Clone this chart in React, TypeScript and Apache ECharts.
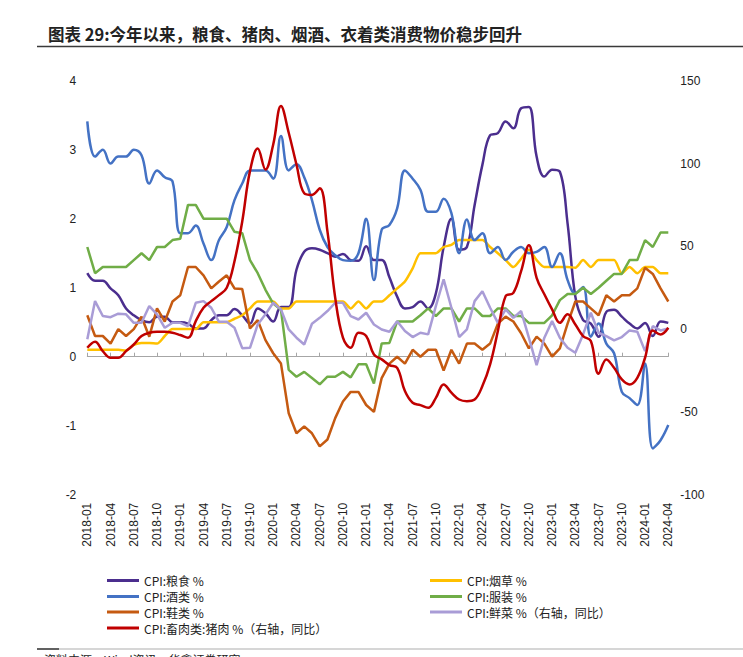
import React, { useEffect, useRef } from "react";
import * as echarts from "echarts";

// 2018-01 .. 2024-04 (76 months)
const months: string[] = [];
for (let y = 2018; y <= 2024; y++) {
  for (let m = 1; m <= 12; m++) {
    if (y === 2024 && m > 4) break;
    months.push(`${y}-${m < 10 ? "0" + m : m}`);
  }
}

const grain = [
  1.21, 1.1, 1.1, 0.99, 0.89, 0.7, 0.6, 0.53, 0.5, 0.58, 0.58, 0.5,
  0.5, 0.48, 0.41, 0.41, 0.53, 0.6, 0.6, 0.69, 0.6, 0.48, 0.7, 0.63,
  0.51, 0.72, 0.72, 1.26, 1.52, 1.57, 1.55, 1.5, 1.45, 1.49, 1.4, 1.39,
  1.6, 1.4, 1.4, 1.15, 0.87, 0.7, 0.72, 0.8, 0.7, 0.92, 1.59, 2.0,
  1.55, 1.59, 2.2, 2.78, 3.21, 3.24, 3.41, 3.31, 3.6, 3.62, 2.9, 2.61,
  2.71, 2.68, 1.93, 0.87, 0.53, 0.48, 0.29, 0.65, 0.68, 0.58, 0.48, 0.41,
  0.49, 0.3, 0.51, 0.49,
];

const tobacco = [
  0.1, 0.1, 0.1, 0.1, 0.1, 0.09, 0.17, 0.2, 0.2, 0.19, 0.3, 0.4,
  0.4, 0.4, 0.4, 0.5, 0.5, 0.5, 0.5, 0.55, 0.6, 0.7, 0.8, 0.8,
  0.8, 0.7, 0.7, 0.8, 0.8, 0.8, 0.8, 0.8, 0.8, 0.8, 0.7, 0.8,
  0.7, 0.8, 0.8, 0.89, 0.99, 1.09, 1.28, 1.5, 1.5, 1.5, 1.59, 1.62,
  1.69, 1.69, 1.69, 1.69, 1.59, 1.5, 1.4, 1.3, 1.42, 1.55, 1.4, 1.3,
  1.3, 1.3, 1.3, 1.29, 1.4, 1.3, 1.4, 1.4, 1.4, 1.21, 1.3, 1.21,
  1.3, 1.3, 1.21, 1.21,
];

const liquor = [
  3.41, 2.9, 3.0, 2.8, 2.9, 2.9, 3.0, 2.92, 2.51, 2.7, 2.6, 2.54,
  1.79, 1.79, 1.9, 1.64, 1.4, 1.69, 1.88, 2.27, 2.51, 2.7, 2.7, 2.7,
  2.58, 3.2, 2.7, 2.79, 2.6, 2.27, 1.84, 1.59, 1.47, 1.4, 1.39, 1.5,
  2.0, 1.11, 1.84, 1.91, 2.15, 2.7, 2.58, 2.42, 2.1, 2.1, 2.29, 2.08,
  1.5, 1.99, 1.69, 1.79, 1.5, 1.59, 1.4, 1.52, 1.59, 1.5, 1.52, 1.59,
  1.3, 1.5, 1.11, 0.92, 1.01, 0.29, 0.48, 0.19, 0.05, -0.51, -0.6, -0.7,
  -0.1, -1.33, -1.21, -0.99,
];

const apparel = [
  1.59, 1.21, 1.3, 1.3, 1.3, 1.3, 1.4, 1.5, 1.4, 1.59, 1.59, 1.69,
  1.71, 2.2, 2.2, 2.0, 2.0, 2.0, 2.0, 1.81, 1.79, 1.4, 1.21, 0.97,
  0.77, 0.68, -0.19, -0.29, -0.22, -0.31, -0.4, -0.29, -0.29, -0.22, -0.3, -0.11,
  -0.11, -0.39, 0.19, 0.2, 0.51, 0.51, 0.51, 0.6, 0.7, 0.59, 0.7, 0.7,
  0.51, 0.7, 0.7, 0.59, 0.59, 0.7, 0.7, 0.59, 0.59, 0.49, 0.49, 0.49,
  0.6, 0.82, 0.91, 0.91, 1.0, 0.91, 1.0, 1.1, 1.2, 1.2, 1.4, 1.4,
  1.69, 1.59, 1.8, 1.8,
];

const shoes = [
  0.6, 0.3, 0.3, 0.19, 0.4, 0.3, 0.4, 0.58, 0.29, 0.7, 0.51, 0.8,
  0.89, 1.3, 1.3, 1.18, 0.99, 1.09, 1.18, 0.99, 0.98, 0.41, 0.53, 0.24,
  0.05, -0.1, -0.82, -1.11, -1.01, -1.11, -1.3, -1.2, -0.89, -0.65, -0.51, -0.51,
  -0.7, -0.8, -0.31, -0.1, 0, -0.1, 0.1, 0, 0.1, 0.1, -0.2, 0.1,
  -0.1, 0.19, 0.19, 0.1, 0.19, 0.48, 0.58, 0.51, 0.34, 0.12, 0.29, 0.19,
  0, 0.12, 0.48, 0.8, 0.8, 0.7, 0.6, 0.89, 0.8, 0.89, 0.89, 0.99,
  1.29, 1.2, 0.99, 0.8,
];

const vegetables = [
  -6.2, 16.9, 7.9, 7.2, 9.3, 8.9, 3.8, 3.8, 13.9, 8.9, 0.8, 3.8,
  3.8, 1.8, 15.9, 16.9, 12.9, 4.4, 4.4, 0.8, -11.5, -11.3, 2.8, 8.9,
  15.9, 11.9, -0.2, -5.2, -9.3, 3.2, 6.8, 10.9, 15.9, 15.9, 7.9, 5.8,
  9.9, 2.8, -0.2, -1.6, 4.8, -1.2, -4.8, -2.2, -3.2, 14, 30, 12.9,
  -4.8, -0.2, 16.9, 22.9, 12.9, 3.8, 11.9, 6.8, 10.9, -5.2, -21.7, -5.2,
  4.8, -5.2, -11.3, -14.3, -3.2, 9.9, -2.2, -4.2, -6.8, -4.8, -0.8, -1.6,
  -13.3, 1.8, -0.8, 0.4,
];

const pork = [
  -11.3, -7.6, -13.3, -17.3, -17.3, -13.3, -9.3, -4.2, -2.2, -1.6, -1.6, -2.2,
  -3.6, -5.2, 4.8, 12.9, 16.9, 20.5, 25, 41, 65, 95.4, 109, 96.4,
  111.5, 134.7, 118.6, 99.4, 82, 81, 85, 59, 19, -5.2, -11.3, -2.2,
  -4.2, -15.3, -18.3, -21.7, -23.4, -37.4, -44.5, -45.9, -47.5, -41.5, -33.4, -38.4,
  -42.5, -43.5, -42.5, -34.4, -21.3, -1.2, 19.9, 21.9, 35, 50.7, 31, 21,
  11.9, 3.8, 8.9, 2.8, -4.2, -7.2, -27, -18.3, -23.4, -30.4, -33.4, -29.4,
  -17.3, -0.8, -3.2, 0.8,
];

const leftTicks = { min: -2, max: 4, interval: 1 };
const rightTicks = { min: -100, max: 150, interval: 50 };

const titleText = "图表 29:今年以来，粮食、猪肉、烟酒、衣着类消费物价稳步回升";
const sourceText = "资料来源：Wind资讯，华鑫证券研究";

const NAMES = {
  grain: "CPI:粮食 %",
  tobacco: "CPI:烟草 %",
  liquor: "CPI:酒类 %",
  apparel: "CPI:服装 %",
  shoes: "CPI:鞋类 %",
  veg: "CPI:鲜菜 %（右轴，同比）",
  pork: "CPI:畜肉类:猪肉 %（右轴，同比）",
};

const COLORS = {
  grain: "#4B2E8E",
  tobacco: "#FFC000",
  liquor: "#4472C4",
  apparel: "#70AD47",
  shoes: "#C55A11",
  veg: "#A99CD6",
  pork: "#C00000",
};

export default function App() {
  const ref = useRef<HTMLDivElement>(null);

  useEffect(() => {
    if (!ref.current) return;
    const chart = echarts.init(ref.current, undefined, { renderer: "svg" });

    const cjk = "'Noto Sans CJK SC', 'Noto Sans', sans-serif";
    const num = "'Liberation Sans', Arial, sans-serif";

    const mkLine = (
      name: string,
      data: number[],
      color: string,
      yAxisIndex: number,
      smooth: number | boolean
    ) => ({
      name,
      type: "line",
      data,
      xAxisIndex: 0,
      yAxisIndex,
      showSymbol: false,
      symbol: "none",
      smooth,
      lineStyle: { color, width: 2.5 },
      itemStyle: { color },
      z: 3,
    });

    const legendItem = (name: string, left: number, cy: number) => ({
      data: [{ name, icon: "rect" }],
      left,
      top: cy - 7,
      padding: 0,
      itemWidth: 32,
      itemHeight: 3,
      selectedMode: false,
      textStyle: { fontSize: 12, color: "#222", fontFamily: cjk },
    });

    const axisLabelStyle = { fontSize: 12, color: "#222", fontFamily: num };

    chart.setOption({
      animation: false,
      backgroundColor: "#fff",
      title: {
        text: titleText,
        left: 48,
        top: 26,
        padding: 0,
        textStyle: {
          fontSize: 16.5,
          fontWeight: "bold",
          color: "#222",
          fontFamily: cjk,
        },
      },
      legend: [
        legendItem(NAMES.grain, 107, 581.5),
        legendItem(NAMES.liquor, 107, 597.5),
        legendItem(NAMES.shoes, 107, 613),
        legendItem(NAMES.pork, 107, 629),
        legendItem(NAMES.tobacco, 430, 581.5),
        legendItem(NAMES.apparel, 430, 597.5),
        legendItem(NAMES.veg, 430, 613),
      ],
      grid: { left: 87.3, right: 74.7, top: 80.7, bottom: 162.3 },
      xAxis: [
        {
          type: "category",
          data: months,
          boundaryGap: false,
          position: "bottom",
          axisLine: { show: false, onZero: false },
          axisTick: { show: false },
          splitLine: { show: false },
          axisLabel: {
            interval: 2,
            rotate: 90,
            margin: 8,
            ...axisLabelStyle,
          },
        },
        {
          type: "category",
          data: months,
          boundaryGap: false,
          position: "bottom",
          axisLine: {
            show: true,
            onZero: true,
            onZeroAxisIndex: 0,
            lineStyle: { color: "#A6A6A6", width: 1 },
          },
          axisTick: {
            show: true,
            inside: true,
            length: 4,
            interval: 2,
            lineStyle: { color: "#A6A6A6", width: 1 },
          },
          axisLabel: { show: false },
          splitLine: { show: false },
        },
      ],
      yAxis: [
        {
          type: "value",
          position: "left",
          ...leftTicks,
          axisLine: { show: false },
          axisTick: { show: false },
          splitLine: { show: false },
          axisLabel: { margin: 11, ...axisLabelStyle },
        },
        {
          type: "value",
          position: "right",
          ...rightTicks,
          axisLine: { show: false },
          axisTick: { show: false },
          splitLine: { show: false },
          axisLabel: { margin: 12, ...axisLabelStyle },
        },
      ],
      graphic: [
        {
          type: "line",
          shape: { x1: 37, y1: 46.5, x2: 743, y2: 46.5 },
          style: { stroke: "#3a3a3a", lineWidth: 1.5 },
        },
        {
          type: "line",
          shape: { x1: 37, y1: 649, x2: 743, y2: 649 },
          style: { stroke: "#c8c8c8", lineWidth: 1.5 },
        },
        {
          type: "line",
          shape: { x1: 37, y1: 649, x2: 59, y2: 649 },
          style: { stroke: "#3a3a3a", lineWidth: 1.5 },
        },
        {
          type: "text",
          left: 44,
          top: 653,
          style: {
            text: sourceText,
            fontSize: 12,
            fill: "#222",
            fontFamily: cjk,
          },
        },
      ],
      series: [
        mkLine(NAMES.grain, grain, COLORS.grain, 0, 0.4),
        mkLine(NAMES.tobacco, tobacco, COLORS.tobacco, 0, 0.25),
        mkLine(NAMES.liquor, liquor, COLORS.liquor, 0, 0.4),
        mkLine(NAMES.apparel, apparel, COLORS.apparel, 0, false),
        mkLine(NAMES.shoes, shoes, COLORS.shoes, 0, false),
        mkLine(NAMES.veg, vegetables, COLORS.veg, 1, false),
        mkLine(NAMES.pork, pork, COLORS.pork, 1, 0.4),
      ],
    });

    return () => chart.dispose();
  }, []);

  return (
    <div
      ref={ref}
      style={{
        position: "fixed",
        left: 0,
        top: 0,
        width: 743,
        height: 657,
        background: "#fff",
      }}
    />
  );
}
